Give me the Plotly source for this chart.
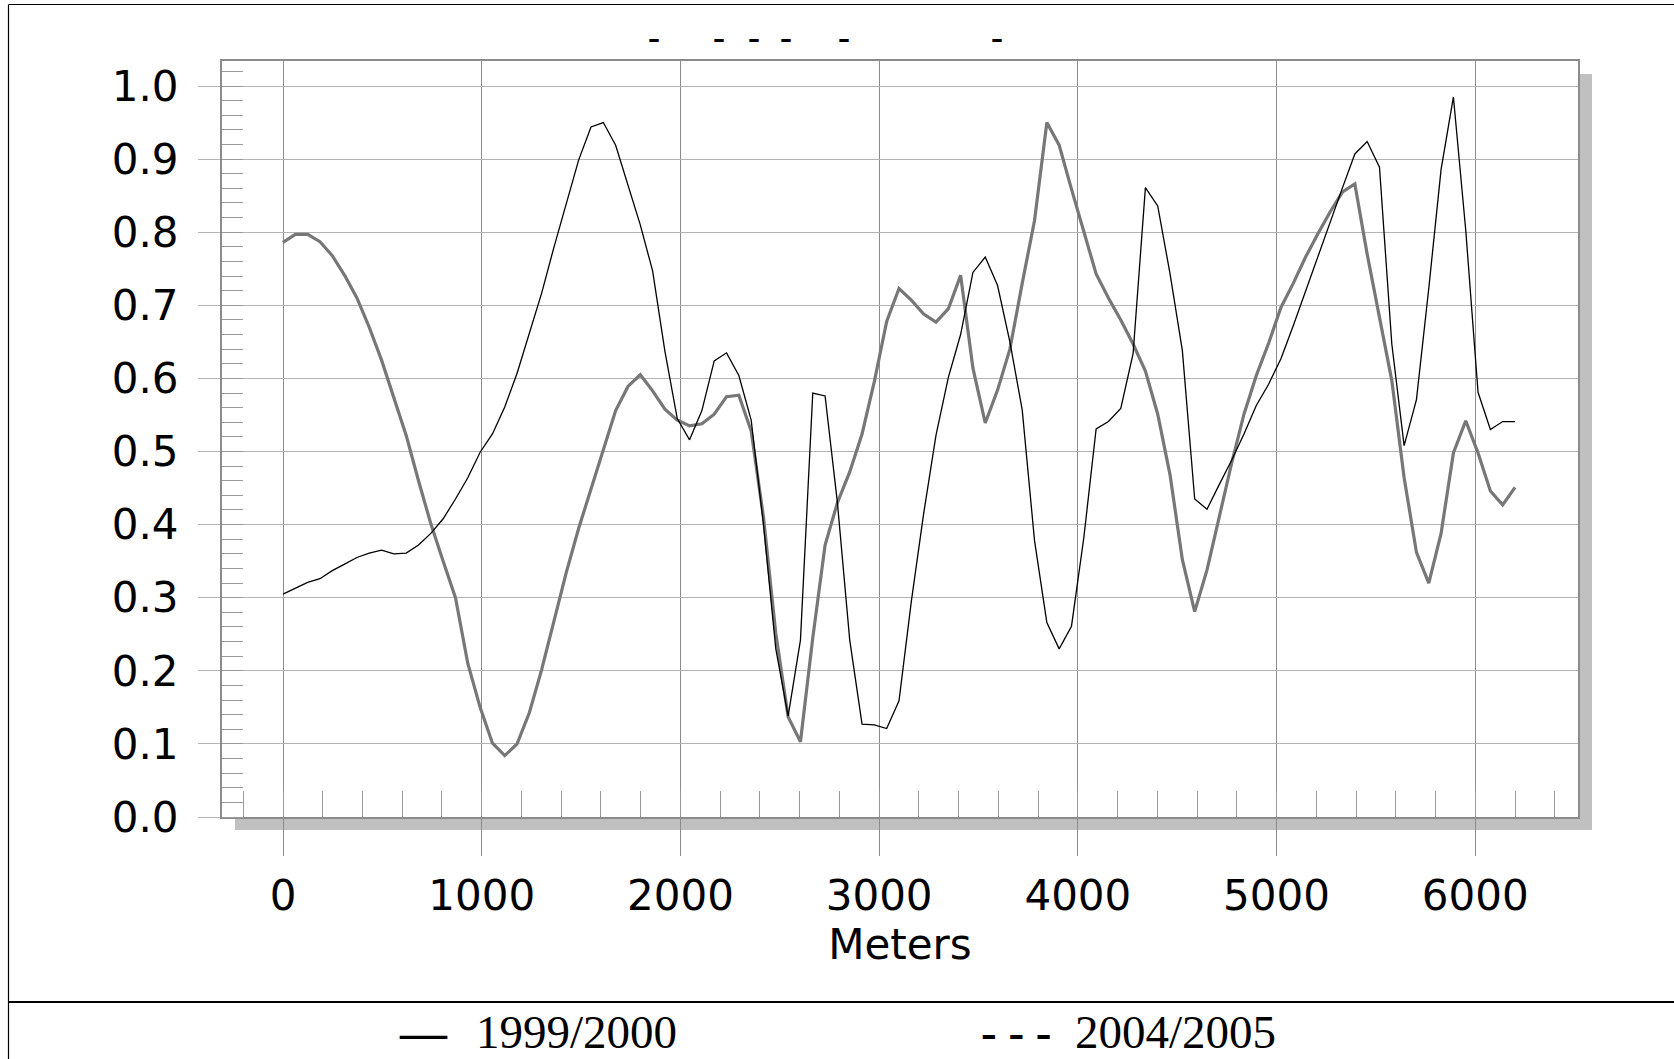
import plotly.graph_objects as go

# ---------------- data ----------------
meters = [0, 62, 124, 186, 248, 310, 372, 434, 496, 558, 620, 682, 744, 806, 868, 930,
          992, 1054, 1116, 1178, 1240, 1302, 1364, 1426, 1488, 1550, 1612, 1674, 1736,
          1798, 1860, 1922, 1984, 2046, 2108, 2170, 2232, 2294, 2356, 2418, 2480, 2542,
          2604, 2666, 2728, 2790, 2852, 2914, 2976, 3038, 3100, 3162, 3224, 3286, 3348,
          3410, 3472, 3534, 3596, 3658, 3720, 3782, 3844, 3906, 3968, 4030, 4092, 4154,
          4216, 4278, 4340, 4402, 4464, 4526, 4588, 4650, 4712, 4774, 4836, 4898, 4960,
          5022, 5084, 5146, 5208, 5270, 5332, 5394, 5456, 5518, 5580, 5642, 5704, 5766,
          5828, 5890, 5952, 6014, 6076, 6138, 6200]

series_1999_2000 = [0.305, 0.313, 0.321, 0.326, 0.337, 0.346, 0.355, 0.361, 0.365, 0.360,
                    0.361, 0.372, 0.388, 0.408, 0.435, 0.464, 0.499, 0.524, 0.561, 0.607,
                    0.662, 0.717, 0.780, 0.839, 0.899, 0.944, 0.950, 0.919, 0.866, 0.810,
                    0.747, 0.637, 0.545, 0.516, 0.556, 0.624, 0.635, 0.604, 0.543, 0.400,
                    0.230, 0.138, 0.242, 0.580, 0.576, 0.430, 0.242, 0.127, 0.126, 0.121,
                    0.159, 0.295, 0.415, 0.522, 0.601, 0.660, 0.745, 0.766, 0.727, 0.650,
                    0.557, 0.378, 0.266, 0.230, 0.261, 0.382, 0.531, 0.541, 0.559, 0.634,
                    0.861, 0.836, 0.743, 0.638, 0.435, 0.421, 0.455, 0.488, 0.524, 0.563,
                    0.592, 0.627, 0.672, 0.720, 0.768, 0.816, 0.861, 0.907, 0.924, 0.889,
                    0.647, 0.508, 0.571, 0.723, 0.886, 0.985, 0.803, 0.581, 0.530, 0.541,
                    0.541]

series_2004_2005 = [0.786, 0.797, 0.797, 0.787, 0.768, 0.741, 0.710, 0.670, 0.625, 0.575,
                    0.522, 0.460, 0.401, 0.350, 0.300, 0.210, 0.150, 0.101, 0.084, 0.100,
                    0.143, 0.202, 0.270, 0.335, 0.395, 0.448, 0.504, 0.556, 0.589, 0.605,
                    0.583, 0.558, 0.543, 0.535, 0.538, 0.551, 0.575, 0.577, 0.528, 0.410,
                    0.251, 0.137, 0.103, 0.245, 0.372, 0.430, 0.472, 0.524, 0.596, 0.678,
                    0.723, 0.707, 0.688, 0.677, 0.695, 0.741, 0.614, 0.539, 0.584, 0.640,
                    0.730, 0.816, 0.950, 0.919, 0.859, 0.800, 0.743, 0.710, 0.680, 0.647,
                    0.610, 0.551, 0.468, 0.352, 0.281, 0.338, 0.411, 0.484, 0.551, 0.604,
                    0.648, 0.697, 0.730, 0.766, 0.798, 0.828, 0.855, 0.866, 0.770, 0.683,
                    0.597, 0.464, 0.362, 0.320, 0.388, 0.498, 0.542, 0.498, 0.446, 0.427,
                    0.451]

y_tick_vals = [0.0, 0.1, 0.2, 0.3, 0.4, 0.5, 0.6, 0.7, 0.8, 0.9, 1.0]
y_tick_text = ["0.0", "0.1", "0.2", "0.3", "0.4", "0.5", "0.6", "0.7", "0.8", "0.9", "1.0"]
x_tick_vals = [0, 1000, 2000, 3000, 4000, 5000, 6000]
x_tick_text = ["0", "1000", "2000", "3000", "4000", "5000", "6000"]
x_title = "Meters"
legend_names = ["1999/2000", "2004/2005"]

# ---------------- layout geometry (pixels) ----------------
W, H = 1674, 1059
L, R, T, B = 222, 1578, 61, 817          # plot area edges
PW, PH = R - L, B - T


def px(xp):
    return (xp - L) / PW


def py(yp):
    return (B - yp) / PH


fig = go.Figure()

fig.add_trace(go.Scatter(x=meters, y=series_2004_2005, mode="lines",
                         name=legend_names[1], showlegend=False,
                         line=dict(color="#777777", width=3.2)))
fig.add_trace(go.Scatter(x=meters, y=series_1999_2000, mode="lines",
                         name=legend_names[0], showlegend=False,
                         line=dict(color="#000000", width=1.3)))

axis_font = dict(family="DejaVu Sans", size=42, color="#000000")

fig.update_xaxes(range=[-307, 6517], tickvals=x_tick_vals, ticktext=x_tick_text,
                 showgrid=True, gridcolor="#8c8c8c", gridwidth=1,
                 ticks="outside", ticklen=37, tickcolor="#8c8c8c", tickwidth=1,
                 minor=dict(dtick=200, tick0=0, ticks="inside", ticklen=26,
                            tickcolor="#9a9a9a", tickwidth=1, showgrid=False),
                 showline=True, linecolor="#8c8c8c", linewidth=2, mirror=True,
                 zeroline=False, tickfont=axis_font, ticklabelstandoff=4,
                 title=dict(text=x_title, font=axis_font, standoff=2))

fig.update_yaxes(range=[0, 1.0342], tickvals=y_tick_vals, ticktext=y_tick_text,
                 showgrid=True, gridcolor="#b4b4b4", gridwidth=1,
                 ticks="outside", ticklen=22, tickcolor="#b4b4b4", tickwidth=1,
                 minor=dict(dtick=0.02, tick0=0, ticks="inside", ticklen=21,
                            tickcolor="#9a9a9a", tickwidth=1, showgrid=False),
                 showline=True, linecolor="#8c8c8c", linewidth=2, mirror=True,
                 zeroline=False, tickfont=axis_font, ticklabelstandoff=11)

shapes = [
    # drop shadow behind plot area
    dict(type="rect", xref="paper", yref="paper", layer="below",
         x0=px(235), x1=px(1592), y0=py(830), y1=py(74),
         fillcolor="#c0c0c0", line=dict(width=0)),
    dict(type="rect", xref="paper", yref="paper", layer="below",
         x0=0, x1=1, y0=0, y1=1, fillcolor="#ffffff", line=dict(width=0)),
    # outer frame
    dict(type="line", xref="paper", yref="paper", x0=px(8.5), x1=px(W + 5),
         y0=py(4.5), y1=py(4.5), line=dict(color="#000000", width=1.2)),
    dict(type="line", xref="paper", yref="paper", x0=px(8.5), x1=px(8.5),
         y0=py(4.5), y1=py(H + 5), line=dict(color="#000000", width=1.2)),
    dict(type="line", xref="paper", yref="paper", x0=px(8.5), x1=px(W + 5),
         y0=py(1002), y1=py(1002), line=dict(color="#000000", width=2)),
]

annotations = []
# stray title dashes
for xc in [654, 719, 754, 786, 844, 997]:
    annotations.append(dict(text="-", xref="paper", yref="paper", x=px(xc), y=py(37),
                            xanchor="center", yanchor="middle", showarrow=False,
                            font=dict(family="Liberation Serif", size=36, color="#000000",
                                      weight="bold")))

leg_font = dict(family="Liberation Serif", size=47, color="#000000")
leg_font_b = dict(family="Liberation Serif", size=47, color="#000000", weight="bold")
for txt, xl, fnt in [("\u2014", 398, leg_font_b), (legend_names[0], 475, leg_font),
                     ("- - -", 980, leg_font_b), (legend_names[1], 1074, leg_font)]:
    annotations.append(dict(text=txt, xref="paper", yref="paper", x=px(xl), y=py(1032),
                            xanchor="left", yanchor="middle", showarrow=False,
                            font=fnt, borderpad=0))

fig.update_layout(width=W, height=H, margin=dict(l=L, r=W - R, t=T, b=H - B),
                  paper_bgcolor="#ffffff", plot_bgcolor="#ffffff",
                  shapes=shapes, annotations=annotations, showlegend=False)

fig.write_html("out.html", config={"displayModeBar": False},
               post_script="document.body.style.margin='0px';"
                           "document.body.style.overflow='hidden';")
